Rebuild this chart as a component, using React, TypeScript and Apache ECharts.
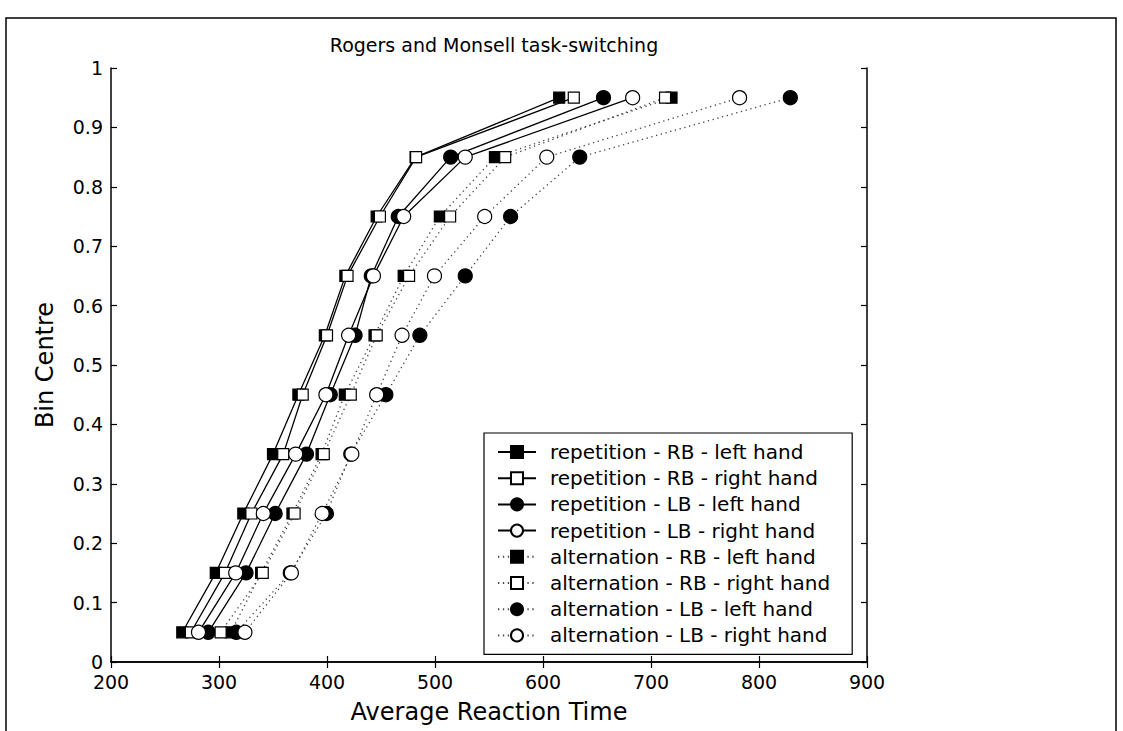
import React, { useEffect, useRef } from "react";
import * as echarts from "echarts";

const binCentres = [0.05, 0.15, 0.25, 0.35, 0.45, 0.55, 0.65, 0.75, 0.85, 0.95];
const repRBLeft = [266, 297, 322.5, 350, 373.5, 398, 417, 446, 482, 615];
const repRBRight = [274, 305.5, 330, 359.5, 377.5, 400, 419, 449, 482.5, 628.5];
const repLBLeft = [290, 325, 352, 381, 403, 426, 441, 466, 514.5, 656];
const repLBRight = [281, 315.5, 341, 371, 399, 420, 443, 471, 528, 683];
const altRBLeft = [311, 339, 368, 395, 416.5, 444, 471, 504.5, 555.5, 719];
const altRBRight = [301.5, 340.5, 370, 397, 422, 446, 476, 514, 565, 713];
const altLBLeft = [316, 366, 399.5, 422, 454.5, 486, 528, 570, 634, 829];
const altLBRight = [324, 367, 395.5, 423, 446, 469.5, 499.5, 546, 603.5, 782];

const seriesNames = [
  "repetition - RB - left hand",
  "repetition - RB - right hand",
  "repetition - LB - left hand",
  "repetition - LB - right hand",
  "alternation - RB - left hand",
  "alternation - RB - right hand",
  "alternation - LB - left hand",
  "alternation - LB - right hand",
];
const seriesValues = [repRBLeft, repRBRight, repLBLeft, repLBRight, altRBLeft, altRBRight, altLBLeft, altLBRight];
const seriesShape = ["rect", "rect", "circle", "circle", "rect", "rect", "circle", "circle"];
const seriesFilled = [true, false, true, false, true, false, true, false];
const seriesDotted = [false, false, false, false, true, true, true, true];

const titleText = "Rogers and Monsell task-switching";
const xName = "Average Reaction Time";
const yName = "Bin Centre";

const FONT = "DejaVu Sans, Liberation Sans, Arial, sans-serif";

export default function App() {
  const ref = useRef<HTMLDivElement>(null);
  useEffect(() => {
    if (!ref.current) return;
    const chart = echarts.init(ref.current, undefined, { renderer: "svg" });
    const series = seriesNames.map((name, i) => ({
      name,
      type: "line",
      xAxisIndex: 0,
      yAxisIndex: 0,
      data: seriesValues[i].map((v, j) => [v, binCentres[j]]),
      symbol: seriesShape[i],
      symbolSize: seriesShape[i] === "rect" ? 11 : 14,
      showSymbol: true,
      lineStyle: seriesDotted[i]
        ? { color: "#444", width: 1.3, type: [1.3, 3.6] }
        : { color: "#000", width: 1.3, type: "solid" },
      itemStyle: {
        color: seriesFilled[i] ? "#000" : "#fff",
        borderColor: "#000",
        borderWidth: 1.2,
      },
      emphasis: { disabled: true },
      z: 2 + i,
    }));
    const axisCommon = {
      type: "value",
      axisLine: { show: true, lineStyle: { color: "#000", width: 1.5 } },
      axisTick: { show: true, inside: true, length: 6, lineStyle: { color: "#000", width: 1.2 } },
      splitLine: { show: false },
    };
    chart.setOption({
      animation: false,
      backgroundColor: "#fff",
      title: {
        text: titleText,
        left: 489,
        top: 30,
        textAlign: "center",
        textStyle: { fontFamily: FONT, fontSize: 19, fontWeight: "normal", color: "#000" },
      },
      grid: { left: 111, top: 68, width: 756, height: 594, containLabel: false },
      xAxis: [
        {
          ...axisCommon,
          position: "bottom",
          min: 200,
          max: 900,
          interval: 100,
          name: xName,
          nameLocation: "middle",
          nameGap: 38,
          nameTextStyle: { fontFamily: FONT, fontSize: 24, color: "#000" },
          axisLabel: { fontFamily: FONT, fontSize: 19, color: "#000", margin: 10 },
        },
        {
          ...axisCommon,
          position: "top",
          min: 200,
          max: 900,
          interval: 100,
          axisLabel: { show: false },
        },
      ],
      yAxis: [
        {
          ...axisCommon,
          position: "left",
          min: 0,
          max: 1,
          interval: 0.1,
          name: yName,
          nameLocation: "middle",
          nameGap: 54,
          nameTextStyle: { fontFamily: FONT, fontSize: 24, color: "#000" },
          axisLabel: { fontFamily: FONT, fontSize: 19, color: "#000", margin: 8 },
        },
        {
          ...axisCommon,
          position: "right",
          min: 0,
          max: 1,
          interval: 0.1,
          axisLabel: { show: false },
        },
      ],
      legend: {
        orient: "vertical",
        left: 484,
        top: 433,
        itemWidth: 38,
        itemHeight: 15,
        itemGap: 4.2,
        padding: [8, 22, 8, 13],
        borderColor: "#000",
        borderWidth: 1.2,
        borderRadius: 0,
        backgroundColor: "#fff",
        selectedMode: false,
        textStyle: { fontFamily: FONT, fontSize: 20, color: "#000", lineHeight: 22, padding: [0, 0, 0, 9] },
        data: seriesNames,
        z: 20,
      },
      graphic: [
        {
          type: "polyline",
          silent: true,
          shape: { points: [[6, 731], [6, 18], [1116, 18], [1116, 731]] },
          style: { stroke: "#000", lineWidth: 1.5, fill: "none" },
        },
      ],
      series,
    });
    return () => chart.dispose();
  }, []);
  return (
    <div
      ref={ref}
      style={{ position: "absolute", left: 0, top: 0, width: 1123, height: 731 }}
    />
  );
}
